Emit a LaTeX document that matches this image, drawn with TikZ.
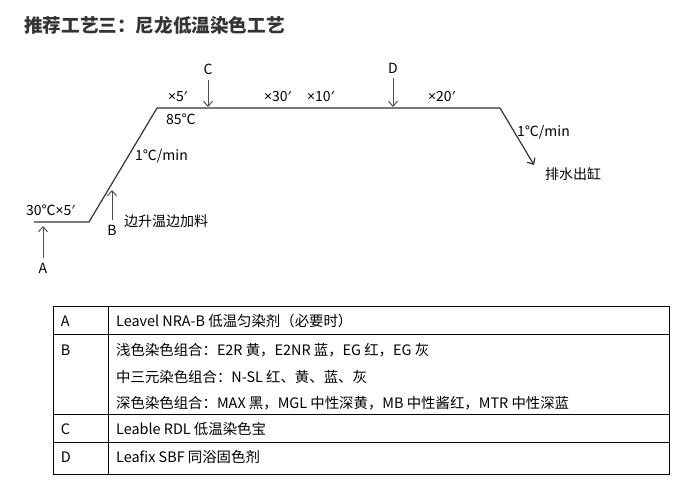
\documentclass[tikz,border=0pt]{standalone}
\usepackage{fontspec}
\setmainfont{Noto Sans CJK SC}
\newfontfamily\narrowsym{Noto Sans}
\newcommand{\tms}{{\narrowsym ×}}
\newcommand{\mnt}{{\narrowsym ′}}
\usetikzlibrary{arrows.meta}
\definecolor{inkgray}{HTML}{333333}
\definecolor{pointgray}{HTML}{505050}
\tikzset{
  txt/.style={anchor=west, inner sep=0pt, font=\fontsize{14}{16}\selectfont},
  cell/.style={txt, font=\fontsize{14.4}{16}\selectfont},
  lbl/.style={inner sep=5pt, font=\fontsize{14}{16}\selectfont},
  pointer/.style={draw=pointgray, line width=1pt, -{Straight Barb[length=5pt,width=9pt]}},
  curve/.style={draw=inkgray, line width=1.2pt},
  rule/.style={draw=black, line width=1pt}
}
\begin{document}
\begin{tikzpicture}[x=1pt,y=-1pt]
\useasboundingbox (0,0) rectangle (700,497);
% title
\node[txt, font=\fontsize{18.6}{20}\selectfont\bfseries, text=inkgray] (title) at (24,25) {推荐工艺三：尼龙低温染色工艺};
% process curve
\coordinate (p0) at (34,222);
\coordinate (p1) at (89,222);
\coordinate (p2) at (157,108);
\coordinate (p3) at (500,108);
\coordinate (p4) at (534,165);
\draw[curve] (p0) -- (p1) -- (p2) -- (p3);
\draw[curve, -{Straight Barb[length=5pt,width=9pt]}] (p3) -- (p4);
% dosing points
\coordinate (onA) at (43,226);
\coordinate (onB) at (112,190);
\coordinate (onC) at (208,107);
\coordinate (onD) at (393,107);
\node[lbl] (A) at (43,268) {A};
\node[lbl] (B) at (112,230) {B};
\node[lbl] (C) at (208,69) {C};
\node[lbl] (D) at (393,68) {D};
\foreach \p in {A,B,C,D}{\draw[pointer] (\p) -- (on\p);}
% step labels
\node[txt] (t30) at (26,210) {30℃\tms 5\mnt};
\node[txt] (hold1) at (168,97) {\tms 5\mnt};
\node[txt] (t85) at (166,119) {85℃};
\node[txt] (rise) at (135,156) {1℃/min};
\node[txt] (feed) at (124,221) {边升温边加料};
\node[txt] (hold2) at (264,97) {\tms 30\mnt};
\node[txt] (hold3) at (307,97) {\tms 10\mnt};
\node[txt] (hold4) at (428,97) {\tms 20\mnt};
\node[txt] (fall) at (517,132) {1℃/min};
\node[txt] (drain) at (545,174) {排水出缸};
% table
\draw[rule] (53.3,306.7) rectangle (669.3,474);
\draw[rule] (108.3,306.7) -- (108.3,474);
\foreach \y in {334.3,414.3,442.3}{\draw[rule] (53.3,\y) -- (669.3,\y);}
\node[cell] (rA) at (60.7,321) {A};
\node[cell] (rB) at (60.7,350) {B};
\node[cell] (rC) at (60.7,429) {C};
\node[cell] (rD) at (60.7,457) {D};
\node[cell] (cA) at (116,321) {Leavel NRA-B 低温匀染剂（必要时）};
\node[cell] (cB1) at (116,350) {浅色染色组合：E2R 黄，E2NR 蓝，EG 红，EG 灰};
\node[cell] (cB2) at (116,377) {中三元染色组合：N-SL 红、黄、蓝、灰};
\node[cell] (cB3) at (116,403) {深色染色组合：MAX 黑，MGL 中性深黄，MB 中性酱红，MTR 中性深蓝};
\node[cell] (cC) at (116,429) {Leable RDL 低温染色宝};
\node[cell] (cD) at (116,457) {Leafix SBF 同浴固色剂};
\end{tikzpicture}
\end{document}
